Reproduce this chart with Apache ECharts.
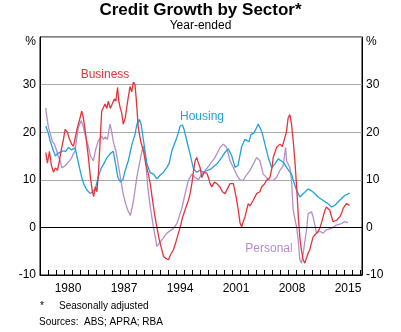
<!DOCTYPE html>
<html><head><meta charset="utf-8">
<script src="https://cdn.jsdelivr.net/npm/echarts@6/dist/echarts.min.js"></script>
<style>html,body{margin:0;padding:0;background:#fff}#c{width:401px;height:332px}</style>
</head><body><div id="c"></div>
<script>
// Year-ended credit growth, % ([decimal year, value])
const business = [
[1977.72,15.7],[1977.93,13.5],[1978.18,16],[1978.43,13],[1978.68,11.6],[1978.93,12.5],[1979.18,12],[1979.43,14],[1979.68,16.5],[1979.93,18.5],
[1980.14,20.6],[1980.43,20],[1980.68,18.5],[1980.97,17.5],[1981.18,17],[1981.43,19],[1981.68,21],[1981.93,22.5],[1982.21,24.4],[1982.42,23],
[1982.67,20],[1983.05,14.7],[1983.30,10.5],[1983.55,7.5],[1983.71,6.5],[1983.92,8.5],[1984.11,7.5],[1984.29,11],[1984.48,17],[1984.71,24.4],
[1984.92,24],[1985.13,25.9],[1985.35,25],[1985.54,26.5],[1985.79,25],[1986.04,26],[1986.29,27],[1986.48,26.5],[1986.70,29.4],[1986.85,26.5],
[1987.04,25],[1987.22,24],[1987.41,21.7],[1987.66,23],[1987.91,26],[1988.25,29.6],[1988.47,28.5],[1988.66,30.5],[1988.87,30],[1989.03,27],
[1989.28,21],[1989.6,18],[1989.94,16],[1990.2,13.5],[1990.5,11.5],[1990.78,9.2],[1991.0,6.5],[1991.3,3],[1991.6,0.1],[1991.9,-2.5],
[1992.2,-4.5],[1992.44,-6.1],[1992.7,-6.5],[1993.06,-6.8],[1993.3,-5.8],[1993.68,-4.7],[1994.0,-3],[1994.3,-1.2],[1994.52,0],[1994.8,2],
[1995.1,3.5],[1995.3,4.5],[1995.55,5.7],[1995.75,7],[1995.98,9.2],[1996.2,12],[1996.39,14],[1996.6,14.7],[1996.8,13.5],[1997.01,12.6],
[1997.22,10.5],[1997.5,11.5],[1997.85,11.4],[1998.05,10.5],[1998.26,9.2],[1998.47,8.5],[1998.8,9.5],[1999.1,9.2],[1999.51,8.5],[1999.8,7.5],
[2000.13,7.1],[2000.45,8.2],[2000.75,9.2],[2001.17,9.2],[2001.5,6.5],[2001.8,3.5],[2002.0,1],[2002.21,0.1],[2002.4,1.2],[2002.62,2.2],
[2002.85,3.8],[2003.03,5],[2003.25,4.5],[2003.65,5.7],[2004.08,7.1],[2004.49,7.5],[2004.7,8.5],[2005.0,9],[2005.33,9.9],[2005.74,10.5],
[2006.0,12.5],[2006.15,14.7],[2006.36,15],[2006.57,16.8],[2006.8,17],[2007.0,17.5],[2007.3,17],[2007.61,18.9],[2007.8,20],[2008.02,23],
[2008.23,23.7],[2008.44,21.7],[2008.65,18.2],[2008.86,14],[2009.1,8],[2009.3,2],[2009.5,-2.5],[2009.7,-5],[2009.9,-6.8],[2010.1,-7.5],
[2010.3,-6.5],[2010.5,-5.5],[2010.72,-4.7],[2010.9,-3.5],[2011.14,-2],[2011.4,-1.5],[2011.7,-1],[2011.97,-0.2],[2012.2,1],[2012.38,2.2],
[2012.6,3.5],[2012.8,4.3],[2013.0,4],[2013.22,3.6],[2013.4,2.5],[2013.63,1.2],[2013.84,0.8],[2014.1,1.5],[2014.46,2.2],[2014.7,3],
[2014.9,4],[2015.1,4.5],[2015.3,5],[2015.5,5.3],[2015.71,4.6]
];
const housing = [
[1977.72,21.3],[1978.0,20],[1978.27,18.2],[1978.5,17],[1978.68,16.1],[1978.93,15],[1979.18,15.5],[1979.56,15.8],[1979.93,16.1],[1980.24,16],
[1980.55,16.8],[1980.93,16.3],[1981.39,16.7],[1981.61,15],[1982.01,12],[1982.3,10],[1982.55,8.8],[1982.89,7.8],[1983.11,7.5],[1983.30,7.1],
[1983.55,7.5],[1983.92,8.1],[1984.33,10.9],[1984.67,12.5],[1984.95,13.3],[1985.38,14.7],[1985.79,15.5],[1986.16,16],[1986.48,13],[1986.73,10.5],
[1987.04,9.6],[1987.35,10],[1987.66,12],[1988.04,14],[1988.5,17.5],[1988.87,19.5],[1989.12,21.7],[1989.44,22.7],[1989.66,21.5],[1989.94,18.2],
[1990.37,13.3],[1990.78,11.5],[1991.19,11.2],[1991.61,10.2],[1992.03,11],[1992.4,11.5],[1992.86,12.6],[1993.15,13.5],[1993.48,16.1],[1994.11,18.9],
[1994.52,21.3],[1994.81,21.5],[1995.02,20.5],[1995.35,18.2],[1995.76,15.4],[1996.18,12.3],[1996.6,11.6],[1997.01,12],[1997.39,11.6],[1997.85,11.9],
[1998.38,12.3],[1999.1,13.3],[1999.72,14.7],[2000.13,15.8],[2000.54,16.5],[2000.97,15],[2001.38,12.6],[2001.75,13],[2002.21,17],[2002.62,18.5],
[2002.87,18.9],[2003.12,18],[2003.37,19.5],[2003.74,19.8],[2004.08,21],[2004.28,21.7],[2004.49,21],[2004.74,20],[2005.12,17.5],[2005.53,14.7],
[2005.95,12.6],[2006.36,13.3],[2006.78,14.4],[2006.99,14.7],[2007.4,13.7],[2007.86,12.5],[2008.44,11.2],[2008.73,9.5],[2009.07,7.8],[2009.48,6.4],
[2009.86,7],[2010.52,8.1],[2011.1,7.5],[2011.76,6.4],[2012.35,5.7],[2013.0,5],[2013.43,4.3],[2013.84,4.6],[2014.46,5.7],[2015.09,6.7],[2015.71,7.2]
];
const personal = [
[1977.72,25.1],[1977.87,23],[1978.06,21],[1978.31,19.5],[1978.56,18],[1978.81,17.5],[1979.09,16.1],[1979.31,14.8],[1979.52,14],[1979.74,12.5],
[1979.93,12.3],[1980.18,13],[1980.43,13.5],[1980.68,13.5],[1980.93,14.5],[1981.18,15.5],[1981.39,16.1],[1981.61,19],[1981.8,21],[1982.14,22.4],
[1982.36,21.5],[1982.55,20],[1982.84,18.2],[1983.05,17],[1983.3,15],[1983.67,14],[1983.98,16.5],[1984.29,18.2],[1984.71,19.2],[1984.92,18.5],
[1985.17,19],[1985.42,18.5],[1985.75,21.7],[1985.92,20.5],[1986.16,18],[1986.5,16],[1986.8,13],[1987.1,10],[1987.4,7],[1987.7,5],
[1988.0,3.5],[1988.3,2.5],[1988.5,2.8],[1988.7,5.7],[1989.1,10.5],[1989.5,14],[1989.8,16.5],[1990.0,17],[1990.2,14],[1990.5,8],
[1990.78,4.3],[1991.19,0],[1991.61,-4],[1991.81,-4.4],[1992.24,-2.6],[1992.86,-1.2],[1993.68,-0.2],[1994.11,0.8],[1994.73,4],[1995.14,7.1],
[1995.55,9.9],[1995.98,11.2],[1996.4,10.5],[1996.8,10],[1997.22,11.2],[1997.64,11.9],[1998.26,13.3],[1998.88,14.7],[1999.51,16.8],[1999.92,17.5],
[2000.34,16.8],[2000.75,14],[2001.17,12.6],[2001.6,11],[2002.0,10],[2002.41,9.9],[2002.8,11],[2003.25,12],[2003.66,13.3],[2004.08,14.7],
[2004.49,14],[2004.9,11.2],[2005.3,10.5],[2005.74,9.9],[2006.15,9.9],[2006.57,10.5],[2006.99,12],[2007.4,13],[2007.7,16.8],[2007.82,14],
[2008.23,12.6],[2008.44,9.9],[2008.65,3.6],[2009.07,0.1],[2009.27,-2.6],[2009.48,-6.8],[2009.69,-7.5],[2009.9,-5.4],[2010.31,-0.6],[2010.52,2.9],
[2010.94,3.3],[2011.14,2.2],[2011.56,-1.2],[2011.97,-0.8],[2012.38,-1.2],[2012.8,-0.5],[2013.43,-0.2],[2014.05,0.5],[2014.68,0.8],[2015.09,1.2],[2015.5,1]
];
const xLabelYears = [1980, 1987, 1994, 2001, 2008, 2015];
const yTickValues = [-10, 0, 10, 20, 30];

const FONT = 'Arial, "Liberation Sans", sans-serif';
const RED = '#e6323a', BLUE = '#1ea3dc', PURPLE = '#b48ec9';
const chart = echarts.init(document.getElementById('c'), null, {renderer: 'canvas'});

function yAxisDef(pos) {
  return {
    type: 'value', position: pos, min: -10, max: 40, interval: 10,
    axisLine: {show: true, lineStyle: {color: '#000', width: 1}},
    axisTick: {show: false},
    splitLine: {show: pos === 'left', lineStyle: {color: '#aaaaaa', width: 1}},
    axisLabel: {
      margin: 4, color: '#000', fontFamily: FONT, fontSize: 12,
      formatter: v => yTickValues.indexOf(v) >= 0 ? String(v) : ''
    }
  };
}

chart.setOption({
  animation: false,
  backgroundColor: '#fff',
  grid: {left: 40, right: 39, top: 37, bottom: 57, show: true, borderColor: '#000', borderWidth: 1, backgroundColor: 'transparent'},
  xAxis: {
    type: 'value', min: 1977, max: 2017.25, interval: 1,
    axisLine: {show: true, onZero: false, lineStyle: {color: '#000', width: 1}},
    axisTick: {show: true, inside: true, length: 5, lineStyle: {color: '#000'}},
    splitLine: {show: false},
    axisLabel: {
      margin: 8, color: '#000', fontFamily: FONT, fontSize: 12, padding: [0, 0, 0, 8],
      showMinLabel: true, showMaxLabel: false,
      formatter: v => xLabelYears.indexOf(Math.round(v)) >= 0 ? String(Math.round(v)) : ''
    }
  },
  yAxis: [yAxisDef('left'), yAxisDef('right')],
  series: [
    {type: 'line', data: personal, showSymbol: false, lineStyle: {color: PURPLE, width: 1.3}, z: 2},
    {type: 'line', data: housing, showSymbol: false, lineStyle: {color: BLUE, width: 1.3}, z: 3},
    {type: 'line', data: business, showSymbol: false, lineStyle: {color: RED, width: 1.3}, z: 4,
      markLine: {silent: true, symbol: 'none', label: {show: false}, lineStyle: {color: '#000', width: 1.2, type: 'solid'},
        data: [{yAxis: 0}]}}
  ],
  graphic: [
    {type: 'text', left: 'center', top: 2, style: {text: 'Credit Growth by Sector*', font: 'bold 17px ' + FONT, fill: '#000'}},
    {type: 'text', left: 'center', top: 20, style: {text: 'Year-ended', font: '12px ' + FONT, fill: '#000'}},
    {type: 'text', x: 36, y: 42, style: {text: '%', font: '12px ' + FONT, fill: '#000', align: 'right', verticalAlign: 'middle'}},
    {type: 'text', x: 366, y: 42, style: {text: '%', font: '12px ' + FONT, fill: '#000', align: 'left', verticalAlign: 'middle'}},
    {type: 'text', x: 105, y: 75, style: {text: 'Business', font: '12px ' + FONT, fill: RED, align: 'center', verticalAlign: 'middle'}},
    {type: 'text', x: 202, y: 117, style: {text: 'Housing', font: '12px ' + FONT, fill: BLUE, align: 'center', verticalAlign: 'middle'}},
    {type: 'text', x: 269, y: 249, style: {text: 'Personal', font: '12px ' + FONT, fill: PURPLE, align: 'center', verticalAlign: 'middle'}},
    {type: 'text', x: 40, y: 306, style: {text: '*', font: '10px ' + FONT, fill: '#000', verticalAlign: 'middle'}},
    {type: 'text', x: 59, y: 306, style: {text: 'Seasonally adjusted', font: '10px ' + FONT, fill: '#000', verticalAlign: 'middle'}},
    {type: 'text', x: 39, y: 322, style: {text: 'Sources:  ABS; APRA; RBA', font: '10px ' + FONT, fill: '#000', verticalAlign: 'middle'}}
  ]
});
</script></body></html>
